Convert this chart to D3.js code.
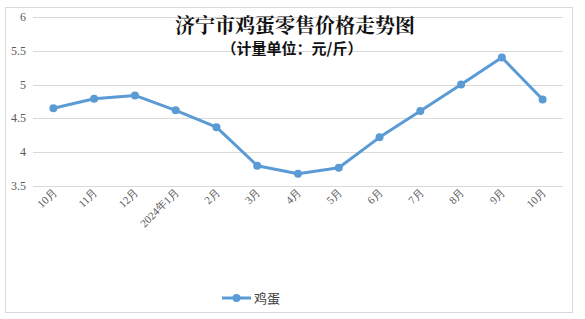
<!DOCTYPE html>
<html>
<head>
<meta charset="utf-8">
<script src="https://cdn.jsdelivr.net/npm/d3@7"></script>
<style>
  body { margin: 0; background: #fff; }
  svg { display: block; }
</style>
</head>
<body>
<svg width="585" height="319"></svg>
<script>
const months = ["10月", "11月", "12月", "2024年1月", "2月", "3月", "4月", "5月", "6月", "7月", "8月", "9月", "10月"];
const prices = [4.65, 4.79, 4.84, 4.62, 4.37, 3.80, 3.68, 3.77, 4.22, 4.61, 5.00, 5.40, 4.78];
const yTicks = [3.5, 4, 4.5, 5, 5.5, 6];
const seriesName = "鸡蛋";

const svg = d3.select("svg");
const lineColor = "#5b9bd5";

// chart frame
svg.append("rect").attr("x", 5.5).attr("y", 7.5).attr("width", 567).attr("height", 305)
  .attr("fill", "#fff").attr("stroke", "#d9d9d9");

const x = d3.scaleBand().domain(d3.range(months.length)).range([33, 563]);
const y = d3.scaleLinear().domain([3.5, 6]).range([186, 17]);

// gridlines
svg.append("g").selectAll("line").data(yTicks).join("line")
  .attr("x1", 33).attr("x2", 563)
  .attr("y1", d => Math.round(y(d)) + 0.5).attr("y2", d => Math.round(y(d)) + 0.5)
  .attr("stroke", "#d9d9d9");

// y labels
svg.append("g").selectAll("text").data(yTicks).join("text")
  .attr("x", 26).attr("y", d => y(d) + 4)
  .attr("text-anchor", "end")
  .attr("font-family", "Liberation Serif, serif").attr("font-size", 12).attr("fill", "#595959")
  .text(d => d);

// x labels, rotated
svg.append("g").selectAll("text").data(months).join("text")
  .attr("transform", (d, i) => `translate(${x(i) + x.bandwidth() / 2 + 4},${193}) rotate(-45)`)
  .attr("text-anchor", "end")
  .attr("font-family", "Liberation Serif, serif").attr("font-size", 11).attr("fill", "#595959")
  .text(d => d);

// line + markers
const line = d3.line().x((d, i) => x(i) + x.bandwidth() / 2).y(d => y(d));
svg.append("path").datum(prices).attr("d", line)
  .attr("fill", "none").attr("stroke", lineColor).attr("stroke-width", 3).attr("stroke-linejoin", "round");
svg.append("g").selectAll("circle").data(prices).join("circle")
  .attr("cx", (d, i) => x(i) + x.bandwidth() / 2).attr("cy", d => y(d)).attr("r", 4)
  .attr("fill", lineColor);

// title
svg.append("text").attr("x", 295).attr("y", 33).attr("text-anchor", "middle")
  .attr("font-family", "Noto Serif CJK SC, Noto Sans CJK SC, serif").attr("font-weight", "bold")
  .attr("font-size", 20).attr("fill", "#111")
  .text("济宁市鸡蛋零售价格走势图");
svg.append("text").attr("x", 292).attr("y", 54).attr("text-anchor", "middle")
  .attr("font-family", "Noto Sans CJK SC, sans-serif").attr("font-weight", "bold")
  .attr("font-size", 15).attr("fill", "#111")
  .text("（计量单位：元/斤）");

// legend
const lg = svg.append("g").attr("transform", "translate(222,302)");
lg.append("line").attr("x1", 0).attr("x2", 29).attr("y1", -4).attr("y2", -4)
  .attr("stroke", lineColor).attr("stroke-width", 3);
lg.append("circle").attr("cx", 14.5).attr("cy", -4).attr("r", 4).attr("fill", lineColor);
lg.append("text").attr("x", 32).attr("y", 1)
  .attr("font-family", "Noto Sans CJK SC, sans-serif").attr("font-size", 13).attr("fill", "#404040")
  .text(seriesName);
</script>
</body>
</html>
